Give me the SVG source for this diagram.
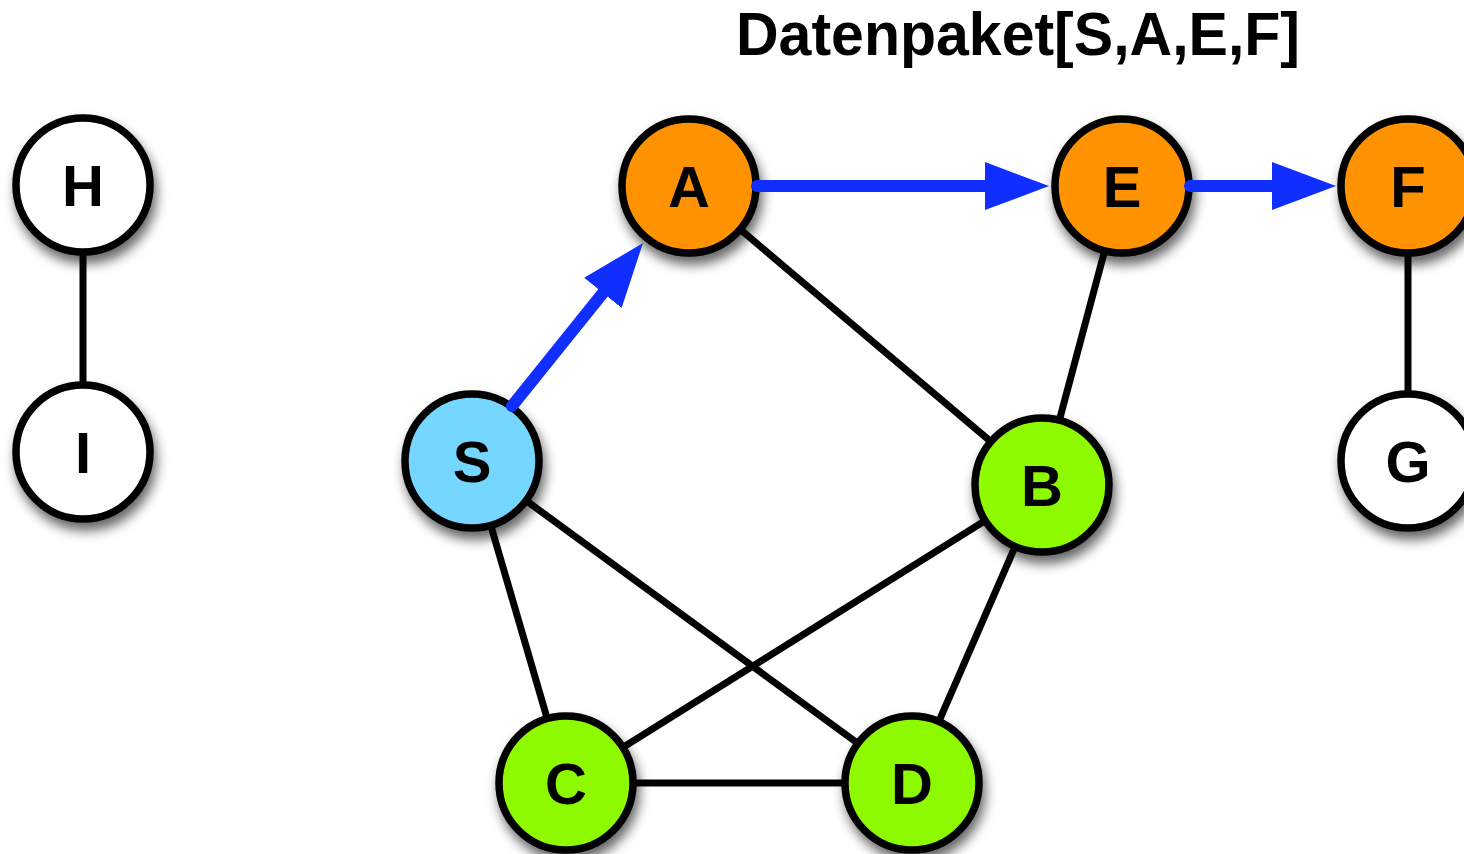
<svg xmlns="http://www.w3.org/2000/svg" width="1464" height="854" viewBox="0 0 1464 854">
  <style>
    .edge { stroke: #000; stroke-width: 7; fill: none; }
    .flow { stroke: #0f2eff; stroke-width: 12; fill: none; stroke-linecap: round; }
    .node circle { stroke: #000; stroke-width: 7.5; filter: url(#shadow); }
    .node text { font-family: "Liberation Sans", Arial, sans-serif; font-weight: bold; font-size: 58px; text-anchor: middle; fill: #000; }
    .title { font-family: "Liberation Sans", Arial, sans-serif; font-weight: bold; font-size: 62px; fill: #000; }
    .white { fill: #fff; }
    .orange { fill: #ff9200; }
    .blue { fill: #75d6ff; }
    .green { fill: #8efa00; }
  </style>
  <defs>
    <filter id="shadow" x="-30%" y="-30%" width="170%" height="170%">
      <feDropShadow dx="3" dy="8" stdDeviation="6" flood-color="#000" flood-opacity="0.6"/>
    </filter>
    <marker id="head" viewBox="0 0 64 48" markerWidth="64" markerHeight="48" refX="34" refY="24" orient="auto" markerUnits="userSpaceOnUse">
      <path d="M0,0 L64,24 L0,48 z" fill="#0f2eff"/>
    </marker>
  </defs>
  <rect width="1464" height="854" fill="#fff"/>

  <text class="title" x="736" y="55" textLength="564" lengthAdjust="spacingAndGlyphs">Datenpaket[S,A,E,F]</text>

  <g id="edges">
    <line class="edge" x1="83" y1="185" x2="83" y2="452"/>
    <line class="edge" x1="1408" y1="186" x2="1408" y2="461"/>
    <line class="edge" x1="689" y1="186" x2="1042" y2="485"/>
    <line class="edge" x1="1122" y1="186" x2="1042" y2="485"/>
    <line class="edge" x1="472" y1="461" x2="566" y2="783"/>
    <line class="edge" x1="472" y1="461" x2="912" y2="783"/>
    <line class="edge" x1="1042" y1="485" x2="566" y2="783"/>
    <line class="edge" x1="1042" y1="485" x2="912" y2="783"/>
    <line class="edge" x1="566" y1="783" x2="912" y2="783"/>
  </g>

  <g id="node-H" class="node"><circle class="white" cx="83" cy="185" r="67"/><text x="83" y="206">H</text></g>
  <g id="node-I" class="node"><circle class="white" cx="83" cy="452" r="67"/><text x="83" y="473">I</text></g>
  <g id="node-A" class="node"><circle class="orange" cx="689" cy="186" r="67"/><text x="689" y="207">A</text></g>
  <g id="node-E" class="node"><circle class="orange" cx="1122" cy="186" r="67"/><text x="1122" y="207">E</text></g>
  <g id="node-F" class="node"><circle class="orange" cx="1408" cy="186" r="67"/><text x="1408" y="207">F</text></g>
  <g id="node-S" class="node"><circle class="blue" cx="472" cy="461" r="67"/><text x="472" y="482">S</text></g>
  <g id="node-B" class="node"><circle class="green" cx="1042" cy="485" r="67"/><text x="1042" y="506">B</text></g>
  <g id="node-G" class="node"><circle class="white" cx="1408" cy="461" r="67"/><text x="1408" y="482">G</text></g>
  <g id="node-C" class="node"><circle class="green" cx="566" cy="783" r="67"/><text x="566" y="804">C</text></g>
  <g id="node-D" class="node"><circle class="green" cx="912" cy="783" r="67"/><text x="912" y="804">D</text></g>

  <g id="flow-arrows">
    <line class="flow" x1="512" y1="406" x2="624.2" y2="266.4" marker-end="url(#head)"/>
    <line class="flow" x1="757" y1="186" x2="1019" y2="186" marker-end="url(#head)"/>
    <line class="flow" x1="1190" y1="186" x2="1306" y2="186" marker-end="url(#head)"/>
  </g>
</svg>
